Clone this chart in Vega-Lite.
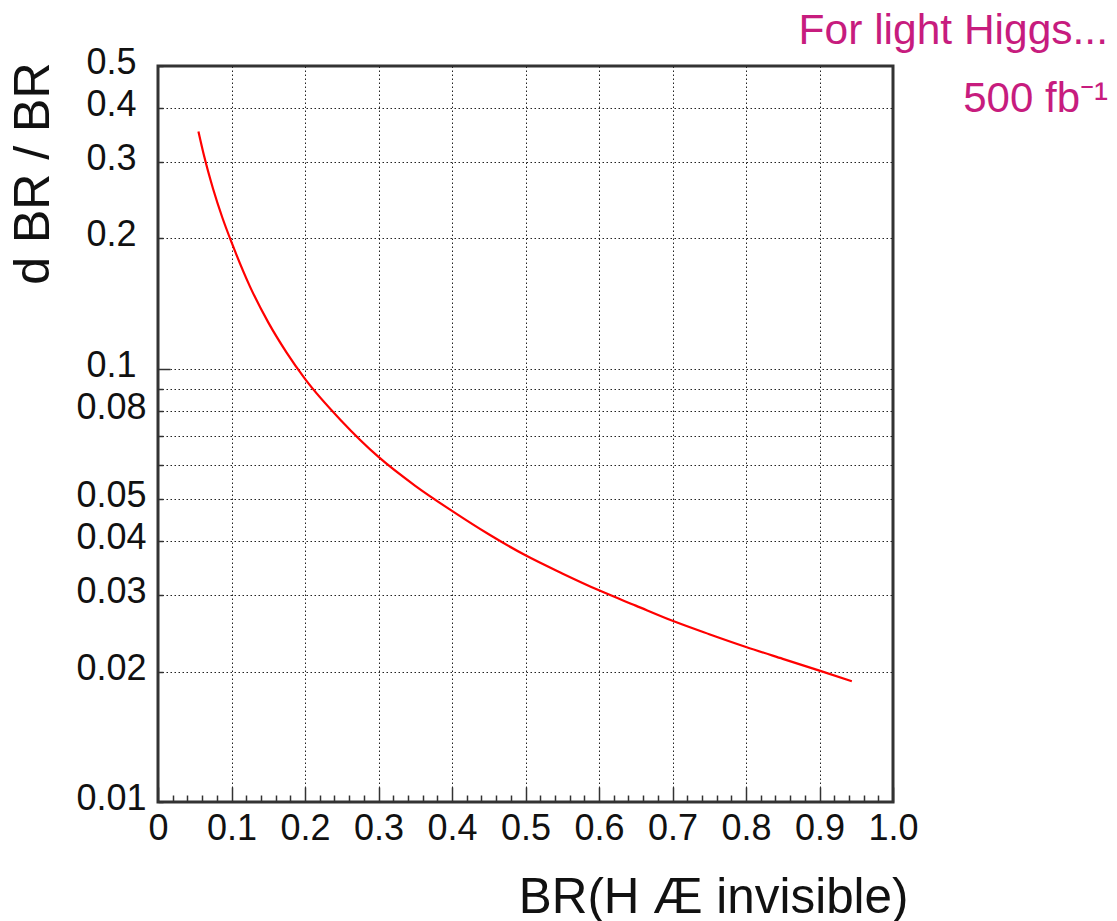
{
  "$schema": "https://vega.github.io/schema/vega-lite/v6.json",
  "width": 735,
  "height": 736,
  "autosize": {"type": "none"},
  "padding": {"left": 158, "top": 66, "right": 224, "bottom": 119},
  "background": "white",
  "title": {
    "text": "For light Higgs...",
    "subtitle": "500 fb⁻¹",
    "anchor": "end",
    "frame": "group",
    "orient": "top",
    "dx": 215,
    "offset": -75,
    "subtitlePadding": 26,
    "font": "Liberation Sans",
    "fontSize": 42.5,
    "fontWeight": "normal",
    "color": "#c71c7e",
    "subtitleFont": "Liberation Sans",
    "subtitleFontSize": 42,
    "subtitleColor": "#c71c7e"
  },
  "config": {"view": {"stroke": "#333333", "strokeWidth": 3}},
  "data": {
    "values": [
      {"br": 0.055, "dbr": 0.353},
      {"br": 0.0625, "dbr": 0.311},
      {"br": 0.075, "dbr": 0.26},
      {"br": 0.0875, "dbr": 0.2235},
      {"br": 0.1, "dbr": 0.196},
      {"br": 0.125, "dbr": 0.155},
      {"br": 0.15, "dbr": 0.128},
      {"br": 0.175, "dbr": 0.109},
      {"br": 0.2, "dbr": 0.0948},
      {"br": 0.25, "dbr": 0.0757},
      {"br": 0.3, "dbr": 0.0626},
      {"br": 0.35, "dbr": 0.0537},
      {"br": 0.4, "dbr": 0.047},
      {"br": 0.45, "dbr": 0.0415},
      {"br": 0.5, "dbr": 0.0371},
      {"br": 0.55, "dbr": 0.0337},
      {"br": 0.6, "dbr": 0.0308},
      {"br": 0.65, "dbr": 0.0284},
      {"br": 0.7, "dbr": 0.0262},
      {"br": 0.75, "dbr": 0.0244},
      {"br": 0.8, "dbr": 0.0228},
      {"br": 0.85, "dbr": 0.0214},
      {"br": 0.9, "dbr": 0.0201},
      {"br": 0.944, "dbr": 0.019}
    ]
  },
  "mark": {"type": "line", "color": "#ff0000", "strokeWidth": 2.2, "interpolate": "monotone"},
  "encoding": {
    "x": {
      "field": "br",
      "type": "quantitative",
      "scale": {"domain": [0, 1], "nice": false, "zero": false},
      "axis": {
        "values": [0,0.02,0.04,0.06,0.08,0.1,0.12,0.14,0.16,0.18,0.2,0.22,0.24,0.26,0.28,0.3,0.32,0.34,0.36,0.38,0.4,0.42,0.44,0.46,0.48,0.5,0.52,0.54,0.56,0.58,0.6,0.62,0.64,0.66,0.68,0.7,0.72,0.74,0.76,0.78,0.8,0.82,0.84,0.86,0.88,0.9,0.92,0.94,0.96,0.98,1],
        "labelExpr": "abs(datum.value*10 - round(datum.value*10)) < 0.001 ? (datum.value == 0 ? '0' : format(datum.value, '.1f')) : ''",
        "labelFlush": false,
        "labelOverlap": false,
        "labelBound": false,
        "labelFont": "Liberation Sans",
        "labelFontSize": 36,
        "labelColor": "#111111",
        "labelBaseline": "top",
        "labelPadding": 24,
        "domain": false,
        "tickColor": "#333333",
        "tickWidth": 1.5,
        "tickSize": {"condition": {"test": "abs(datum.value*10 - round(datum.value*10)) < 0.001", "value": -15}, "value": -7},
        "grid": true,
        "gridColor": "#222222",
        "gridWidth": 1,
        "gridDash": [1.5, 2.5],
        "gridOpacity": {"condition": {"test": "abs(datum.value*10 - round(datum.value*10)) < 0.001 && datum.value > 0 && datum.value < 1", "value": 1}, "value": 0},
        "title": "BR(H Æ invisible)",
        "titleFont": "Liberation Sans",
        "titleFontSize": 49.4,
        "titleFontWeight": "normal",
        "titleColor": "#111111",
        "titleAlign": "right",
        "titleBaseline": "alphabetic",
        "titleX": 750,
        "titleY": 110
      }
    },
    "y": {
      "field": "dbr",
      "type": "quantitative",
      "scale": {"type": "log", "domain": [0.01, 0.5], "nice": false},
      "axis": {
        "values": [0.01,0.02,0.03,0.04,0.05,0.06,0.07,0.08,0.09,0.1,0.2,0.3,0.4,0.5],
        "labelExpr": "(datum.value == 0.06 || datum.value == 0.07 || datum.value == 0.09) ? '' : '' + datum.value",
        "labelFlush": false,
        "labelOverlap": false,
        "labelBound": false,
        "labelFont": "Liberation Sans",
        "labelFontSize": 36,
        "labelColor": "#111111",
        "labelAlign": "center",
        "labelBaseline": "middle",
        "labelOffset": -3.5,
        "labelPadding": {"condition": {"test": "datum.value == 0.1", "value": 59}, "value": 52},
        "domain": false,
        "tickColor": "#333333",
        "tickWidth": 1.5,
        "tickSize": {"condition": {"test": "datum.value == 0.1", "value": -12}, "value": -5},
        "grid": true,
        "gridColor": "#222222",
        "gridWidth": 1,
        "gridDash": [1.5, 2.5],
        "gridOpacity": {"condition": {"test": "datum.value > 0.01 && datum.value < 0.5", "value": 1}, "value": 0},
        "title": "d BR / BR",
        "titleFont": "Liberation Sans",
        "titleFontSize": 50,
        "titleFontWeight": "normal",
        "titleColor": "#111111",
        "titleAngle": -90,
        "titleAlign": "right",
        "titleBaseline": "alphabetic",
        "titleX": -110,
        "titleY": -4
      }
    }
  }
}
